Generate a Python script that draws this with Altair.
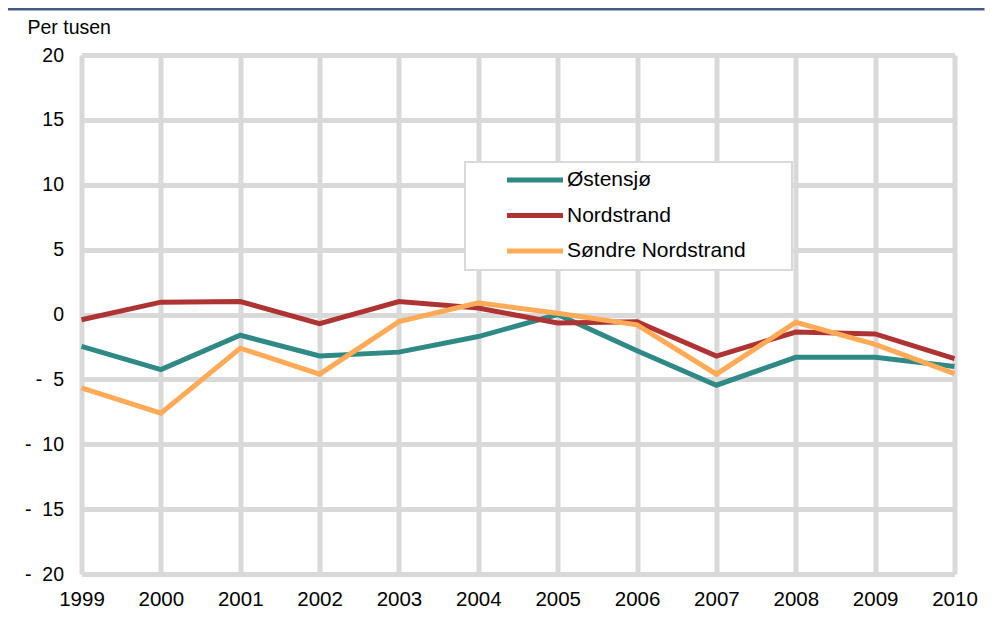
import altair as alt
import pandas as pd

years = [1999, 2000, 2001, 2002, 2003, 2004, 2005, 2006, 2007, 2008, 2009, 2010]
series_names = ["Østensjø", "Nordstrand", "Søndre Nordstrand"]
ostensjo = [-2.45, -4.25, -1.6, -3.2, -2.9, -1.7, 0.0, -2.8, -5.45, -3.3, -3.3, -4.0]
nordstrand = [-0.4, 0.95, 1.0, -0.7, 1.0, 0.5, -0.65, -0.55, -3.2, -1.35, -1.5, -3.4]
sondre = [-5.65, -7.6, -2.6, -4.6, -0.55, 0.9, 0.1, -0.8, -4.6, -0.6, -2.3, -4.55]
colors = ["#2F8A85", "#AE3333", "#FFAA57"]
y_ticks = [-20, -15, -10, -5, 0, 5, 10, 15, 20]

rows = []
for name, vals in zip(series_names, [ostensjo, nordstrand, sondre]):
    for yr, v in zip(years, vals):
        rows.append({"År": yr, "Verdi": v, "Bydel": name})
df = pd.DataFrame(rows)

FONT = "Liberation Sans"
GRID = "#D9D9D9"
NB = "\u00a0"

lines = alt.Chart(df).mark_line(strokeWidth=5).encode(
    x=alt.X(
        "År:Q",
        scale=alt.Scale(domain=[years[0], years[-1]], nice=False, zero=False),
        axis=alt.Axis(
            values=years, format="d", title=None, grid=True, gridColor=GRID,
            gridWidth=5, gridOpacity=1, domain=False, ticks=False,
            labelFontSize=20.5, labelFont=FONT, labelColor="black",
            labelPadding=15, labelFlush=False, labelOverlap=False,
        ),
    ),
    y=alt.Y(
        "Verdi:Q",
        scale=alt.Scale(domain=[-20, 20], nice=False),
        axis=alt.Axis(
            values=y_ticks, title="Per tusen", titleAngle=0, titleAlign="left",
            titleBaseline="alphabetic", titleX=-54.5, titleY=-22,
            titleFontSize=19.5, titleFont=FONT, titleFontWeight="normal",
            titleColor="black",
            grid=True, gridColor=GRID, gridWidth=5, gridOpacity=1,
            domain=False, ticks=False, labelFontSize=19.5, labelFont=FONT,
            labelColor="black", labelPadding=18, labelFlush=False,
            labelOverlap=False,
            labelExpr=f"datum.value < 0 ? '-{NB}{NB}' + abs(datum.value) : '' + datum.value",
        ),
    ),
    color=alt.Color(
        "Bydel:N",
        scale=alt.Scale(domain=series_names, range=colors),
        sort=series_names,
        legend=alt.Legend(
            title=None, orient="none", legendX=383.5, legendY=106.5,
            padding=8,
            symbolType="M-4,0L4,0", symbolSize=196, symbolStrokeWidth=5,
            symbolOffset=51.5, labelOffset=21.5, labelFontSize=21,
            labelFont=FONT, labelColor="black", rowPadding=13.5,
            labelLimit=500,
        ),
    ),
)

# legend frame (decoration behind the legend)
legend_box = alt.Chart(pd.DataFrame({"a": [0]})).mark_rect(
    fill="white", stroke=GRID, strokeWidth=2
).encode(x=alt.value(383.5), x2=alt.value(710.5), y=alt.value(107), y2=alt.value(215))

topline = alt.Chart(pd.DataFrame({"a": [0]})).mark_rule(
    color="#435A87", strokeWidth=3
).encode(x=alt.value(-73.5), x2=alt.value(903), y=alt.value(-46))

chart = alt.layer(topline, legend_box, lines).properties(
    width=873,
    height=519,
    autosize=alt.AutoSizeParams(type="none"),
    padding={"left": 73.5, "top": 47, "right": 30, "bottom": 36},
).configure_view(stroke=None).configure(font=FONT)

chart.save("out.html", embed_options={"renderer": "svg", "actions": False})
